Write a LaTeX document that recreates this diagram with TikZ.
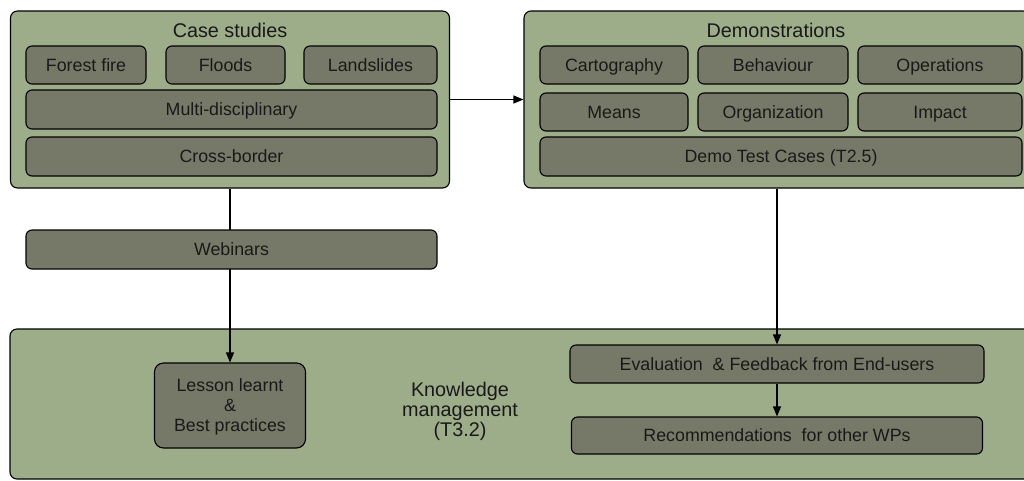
\documentclass[tikz,border=0pt]{standalone}
\usepackage{fontspec}
\setmainfont{Liberation Sans}
\usetikzlibrary{arrows.meta}
\definecolor{paneGreen}{RGB}{157,173,137}
\definecolor{cellGrey}{RGB}{119,121,104}
\begin{document}
\begin{tikzpicture}[x=1pt, y=-1pt]
\tikzset{every node/.style={inner sep=0pt, text=black!90}, pane/.style={draw, rounded corners=7pt, line width=1.1pt, fill=paneGreen}, box/.style={draw, rounded corners=6pt, line width=1.1pt, fill=cellGrey, font=\fontsize{17.8}{20}\selectfont, align=center}, cell/.style={box, text height=12.8pt, text depth=0pt}, title/.style={font=\fontsize{19.8}{20}\selectfont, align=center}, flow/.style={line width=1.1pt, -{Triangle[length=10pt, width=8pt]}}}
\useasboundingbox (0,0) rectangle (1024,480);
\clip (0,0) rectangle (1024,480);
% outer panes
\node[pane, minimum width=439, minimum height=177] (CS) at (230,99.5) {};
\node[pane, minimum width=506, minimum height=177] (DM) at (777,99.5) {};
\node[pane, minimum width=1028, minimum height=150] (KM) at (524,404) {};
\node[title, text height=14pt, text depth=0pt] (CST) at (230,30) {Case studies};
\node[title, text height=14pt, text depth=0pt] (DMT) at (776,30) {Demonstrations};
\node[title] (KMT) at (460,411) {Knowledge\\management\\(T3.2)};

% case studies
\node[cell, minimum width=120, minimum height=38] (FF) at (86,65) {Forest fire};
\node[cell, minimum width=119, minimum height=38] (FL) at (225.5,65) {Floods};
\node[cell, minimum width=133, minimum height=38] (LS) at (370.5,65) {Landslides};
\node[cell, minimum width=411, minimum height=39] (MD) at (231.5,109.5) {Multi-disciplinary};
\node[cell, minimum width=411, minimum height=39] (CB) at (231.5,156.5) {Cross-border};

% demonstrations
\node[cell, minimum width=148, minimum height=38] (CA) at (614,65) {Cartography};
\node[cell, minimum width=150, minimum height=38] (BE) at (773,65) {Behaviour};
\node[cell, minimum width=164, minimum height=38] (OP) at (940,65) {Operations};
\node[cell, minimum width=148, minimum height=38] (ME) at (614,112) {Means};
\node[cell, minimum width=150, minimum height=38] (OR) at (773,112) {Organization};
\node[cell, minimum width=164, minimum height=38] (IM) at (940,112) {Impact};
\node[cell, minimum width=482, minimum height=39] (DT) at (781,156.5) {Demo Test Cases (T2.5)};

% knowledge management
\node[box, rounded corners=9pt, minimum width=151, minimum height=85] (LL) at (230,405.5) {\rule{0pt}{15pt}Lesson learnt\\\&\\Best practices};
\node[cell, minimum width=414, minimum height=38] (EF) at (777,364) {Evaluation \ \& Feedback from End-users};
\node[cell, minimum width=411, minimum height=37] (RW) at (777,435.5) {Recommendations \ for other WPs};

\draw[flow] (CS.east) -- (DM.west);
\draw[flow] (CS.south) -- (LL.north);
\draw[flow] (DM.south) -- (EF.north);
\draw[flow] (EF.south) -- (RW.north);

\node[cell, minimum width=411, minimum height=39] (WB) at (231.5,249.5) {Webinars};
\end{tikzpicture}
\end{document}
